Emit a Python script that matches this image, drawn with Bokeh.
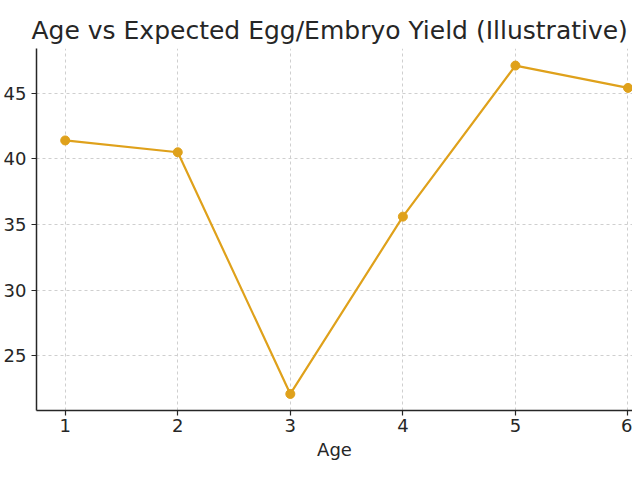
from bokeh.plotting import figure
from bokeh.models import Range1d, FixedTicker
from bokeh.embed import file_html
from bokeh.resources import INLINE

ages = [1, 2, 3, 4, 5, 6]
yields = [41.4, 40.5, 22.1, 35.6, 47.1, 45.4]
x_ticks = [1, 2, 3, 4, 5, 6]
y_ticks = [25, 30, 35, 40, 45]
title_text = "Age vs Expected Egg/Embryo Yield (Illustrative)"
color = "#DFA11B"

p = figure(width=632, height=464, output_backend="svg", toolbar_location=None,
           x_range=Range1d(0.745, 6.04), y_range=Range1d(20.84, 48.4),
           min_border_left=28, min_border_right=0, min_border_top=48, min_border_bottom=54)
p.title.text = title_text
p.title.text_font = "DejaVu Sans"
p.title.text_font_size = "25px"
p.title.text_font_style = "normal"
p.title.text_color = "#262626"
p.title.align = "left"
p.title.offset = -5
p.title.standoff = 8

p.outline_line_color = None
p.background_fill_color = "white"
p.border_fill_color = "white"

p.xaxis.axis_label = "Age"
p.xaxis.axis_label_text_font = "DejaVu Sans"
p.xaxis.axis_label_text_font_size = "18px"
p.xaxis.axis_label_text_font_style = "normal"
p.xaxis.axis_label_text_color = "#262626"
p.xaxis.axis_label_standoff = 4

for ax in (p.xaxis, p.yaxis):
    ax.major_label_text_font = "DejaVu Sans"
    ax.major_label_text_font_size = "18px"
    ax.major_label_text_color = "#262626"
    ax.axis_line_color = "#262626"
    ax.axis_line_width = 1.5
    ax.major_tick_line_color = "#262626"
    ax.major_tick_line_width = 1.2
    ax.major_tick_out = 5
    ax.major_tick_in = 0
    ax.minor_tick_line_color = None

p.xaxis.ticker = FixedTicker(ticks=x_ticks)
p.yaxis.ticker = FixedTicker(ticks=y_ticks)
p.xaxis.major_label_standoff = 3
p.yaxis.major_label_standoff = 5

for g in (p.xgrid, p.ygrid):
    g.grid_line_color = "#cfcfcf"
    g.grid_line_dash = "3 3"
    g.grid_line_width = 1
p.xgrid.ticker = FixedTicker(ticks=x_ticks)
p.ygrid.ticker = FixedTicker(ticks=y_ticks)

p.line(ages, yields, line_color=color, line_width=2.2)
p.scatter(ages, yields, size=9, fill_color=color, line_color=color)

open("out.html", "w").write(file_html(p, INLINE))
